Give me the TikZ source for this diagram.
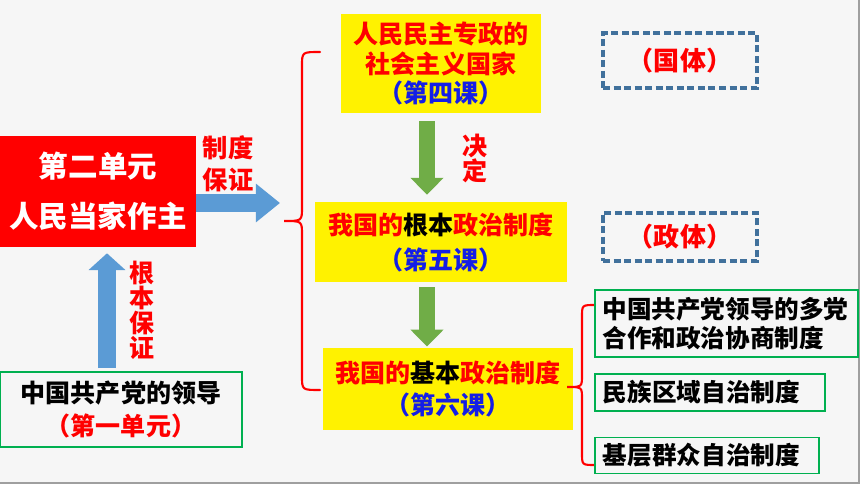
\documentclass[tikz,border=0pt]{standalone}
\usepackage{fontspec}
\newfontfamily\cjk{Noto Sans CJK SC}
\usepackage{xcolor}
\usepackage{tikz}
\usetikzlibrary{arrows.meta}

\definecolor{paper}{RGB}{246,246,246}
\definecolor{boxgreen}{RGB}{0,176,80}
\definecolor{lessonblue}{RGB}{20,30,230}
\definecolor{arrowblue}{RGB}{91,155,213}
\definecolor{arrowgreen}{RGB}{112,173,71}
\definecolor{dashblue}{RGB}{65,113,156}

\begin{document}
\begin{tikzpicture}[x=0.025cm, y=-0.025cm,
  txt/.style={inner sep=0pt, align=center, font={\cjk\bfseries\fontsize{17.8pt}{23.5pt}\selectfont}},
  unitbox/.style={txt, fill=red, text=white, font={\cjk\bfseries\fontsize{21pt}{35.5pt}\selectfont}},
  yellowbox/.style={txt, fill=yellow, text=red},
  greenbox/.style={txt, draw=boxgreen, line width=1.4pt, text=black},
  dashbox/.style={txt, draw=dashblue, line width=2.6pt, dash pattern=on 5pt off 2.5pt, text=red, font={\cjk\bfseries\fontsize{18.5pt}{20pt}\selectfont}},
  redlabel/.style={txt, text=red},
  bluearrow/.style={draw=arrowblue, line width=0.44cm},
  greenarrow/.style={draw=arrowgreen, line width=0.4cm, -{Triangle[width=0.8cm, length=0.42cm]}},
  brace/.style={draw=red, line width=1.5pt, line cap=round}]

\useasboundingbox (0,0) rectangle (860,484);
\fill[paper] (0,0) rectangle (860,484);
\draw[gray!75, line width=2pt] (0,483) -- (859,483) -- (859,0);

% left part
\node[unitbox, minimum width=4.9cm, minimum height=2.775cm] (unit) at (98,191.5) {第二单元\\人民当家作主};
\node[greenbox, minimum width=6.05cm, minimum height=1.875cm] (leader) at (121,409.5) {中国共产党的领导\\\textcolor{red}{（第一单元）}};

\coordinate (gtip) at (280,203);
\coordinate (ux) at (107,0);
\draw[bluearrow, -{Triangle[width=0.925cm, length=0.6cm]}] (unit.east |- gtip) -- (gtip);
\draw[bluearrow, -{Triangle[width=0.9cm, length=0.42cm]}, shorten <=0.075cm, shorten >=0.15cm] (leader.north -| ux) -- (unit.south -| ux);

\node[redlabel, font={\cjk\bfseries\fontsize{18pt}{22.8pt}\selectfont}] (zhidu) at (228,164) {制度\\保证};
\node[redlabel, font={\cjk\bfseries\fontsize{17.8pt}{17.8pt}\selectfont}] (genben) at (142,310) {根\\本\\保\\证};

% brace and the three lessons
\draw[brace] (320,52) .. controls (302,52) .. (302,66) -- (302,207)
  .. controls (302,221) .. (284,221) .. controls (302,221) .. (302,235)
  -- (302,376) .. controls (302,390) .. (320,390);

\node[yellowbox, minimum width=5cm, minimum height=2.475cm, font={\cjk\bfseries\fontsize{17.8pt}{21pt}\selectfont}] (nature) at (441,63.5) {人民民主专政的\\社会主义国家\\\textcolor{lessonblue}{（第四课）}};
\node[yellowbox, minimum width=6.3cm, minimum height=2cm, font={\cjk\bfseries\fontsize{17.8pt}{24.9pt}\selectfont}] (root) at (441,242) {我国的\textcolor{black}{根本}政治制度\\\textcolor{lessonblue}{（第五课）}};
\node[yellowbox, minimum width=6.25cm, minimum height=2.05cm, font={\cjk\bfseries\fontsize{17.8pt}{22.8pt}\selectfont}] (basic) at (448,389) {我国的\textcolor{black}{基本}政治制度\\\textcolor{lessonblue}{（第六课）}};

\coordinate (gx) at (427,0);
\draw[greenarrow, shorten <=0.2cm, shorten >=0.175cm] (nature.south -| gx) -- (root.north -| gx);
\draw[greenarrow, shorten <=0.125cm, shorten >=0.03cm] (root.south -| gx) -- (basic.north -| gx);

\node[redlabel, font={\cjk\bfseries\fontsize{17.8pt}{18pt}\selectfont}] (jueding) at (475,158.5) {决\\定};

\node[dashbox, minimum width=3.85cm, minimum height=1.375cm] (guoti) at (680,60.5) {（国体）};
\node[dashbox, minimum width=3.85cm, minimum height=1.2cm] (zhengti) at (680,237) {（政体）};

% right part
\draw[brace] (595,305) .. controls (582,305) .. (582,317) -- (582,375)
  .. controls (582,387) .. (567,387) .. controls (582,387) .. (582,399)
  -- (582,453) .. controls (582,465) .. (595,465);

\node[greenbox, align=left, text width=6.2cm, minimum width=6.575cm, minimum height=1.675cm, font={\cjk\bfseries\fontsize{17.5pt}{20.6pt}\selectfont}] (multi) at (726.5,323.5) {中国共产党领导的多党\\合作和政治协商制度};
\node[greenbox, align=left, text width=5.35cm, minimum width=5.75cm, minimum height=0.925cm, font={\cjk\bfseries\fontsize{17.5pt}{20.6pt}\selectfont}] (ethnic) at (710,392.5) {民族区域自治制度};
\node[greenbox, align=left, text width=5.2cm, minimum width=5.6cm, minimum height=0.9cm, font={\cjk\bfseries\fontsize{17.5pt}{20.6pt}\selectfont}] (grass) at (707,455.5) {基层群众自治制度};
\end{tikzpicture}
\end{document}
